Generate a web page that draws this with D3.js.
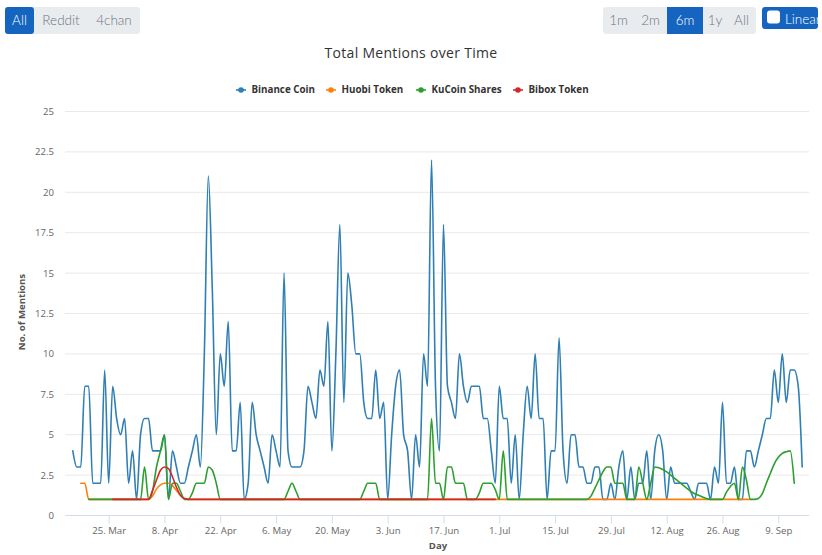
<!DOCTYPE html>
<html><head><meta charset="utf-8">
<script src="https://cdnjs.cloudflare.com/ajax/libs/d3/7.8.5/d3.min.js"></script>
<style>html,body{margin:0;padding:0;background:#fff;overflow:hidden}svg{display:block}</style>
</head><body><svg id="c" width="822" height="555"></svg>
<script>
const startDate = "2019-03-16";
const binance = [4,3,3,8,8,2,2,2,9,2, 8,6,5,6,2,4,1,5,6,6, 4,4,4,5,1,4,3,2,2,3, 4,5,3,10,21,14,5,10,8,12,
 4,4,7,1,2,7,5,4,3,2, 5,4,3,15,4,3,3,3,4,8, 7,6,9,8,12,4,10,18,7,15, 13,10,10,7,6,6,9,6,7,1,
 5,8,9,5,4,1,5,3,10,8, 22,8,4,18,8,7,6,10,8,7, 8,8,8,6,6,4,2,8,6,6, 2,5,1,5,8,6,10,6,6,1,
 4,4,11,4,2,5,5,3,3,2, 2,3,3,1,1,2,1,3,4,1, 3,1,2,2,4,1,4,5,4,1, 3,2,2,2,2,1.5,1,2,2,2,
 1,3,2,7,2,2,3,1,1,4, 4,3,4,5,6,6,9,7,10,7, 9,9,8,3];
const huobi = [null,null,2,2,1,1,1,1,1,1, 1,1,1,1,1,1,1,1,1,1, 1.2,1.65,1.9,2,2,1.85,1.55,1.25,1.05,1, 1,1,1,1,1,1,1,1,1,1,
 1,1,1,1,1,1,1,1,1,1, 1,1,1,1,1,1,1,1,1,1, 1,1,1,1,1,1,1,1,1,1, 1,1,1,1,1,1,1,1,1,1,
 1,1,1,1,1,1,1,1,1,1, 1,1,1,1,1,1,1,1,1,1, 1,1,1,1,1,1,1,1,1,1, 1,1,1,1,1,1,1,1,1,1,
 1,1,1,1,1,1,1,1,1,1, 1,1,1,1,1,1,1,1,1,1, 1,1,1,1,1,1,1,1,1,1, 1,1,1,1,1,1,1,1,1,1,
 1,1,1,1,1,1,1,1,1,1, 1];
const kucoin = [null,null,null,null,1,1,1,1,1,1, 1,1,1,1,1,1,1,1,3,1, 1.5,3,4,5,1,2,2,1.5,1,1, 1.4,2,2,2,3,2.8,2,1,1,1,
 1,1,1,1,1,1,1,1,1,1, 1,1,1,1,1.5,2,1.5,1,1,1, 1,1,1,1,1,1,1,1,1,1, 1,1,1,1.5,2,2,2,1,1,1,
 1,1,1,1,1,1,1,1,1,1, 6,2,2,1,3,3,2,2,2,1, 1,1,1.4,2,2,2,1.6,1,4,1, 1,1,1,1,1,1,1,1,1,1,
 1,1,1,1,1,1,1,1,1,1, 1.2,1.7,2.2,2.7,3,3,2,2,2,1, 1,1,3,2,1,2,3,2.95,2.85,2.7, 2.5,2.3,2.1,1.9,1.7,1.5,1.35,1.25,1.15,1.05,
 1,1,1,1,1.45,1.8,2,1,3,2.2, 1,1,1.05,1.35,2,2.6,3.2,3.6,3.85,3.95, 4,2];
const bibox = [null,null,null,null,null,null,null,null,null,null, 1,1,1,1,1,1,1,1,1,1, 1.55,2.2,2.8,3,2.9,2.4,1.75,1.25,1.05,1, 1,1,1,1,1,1,1,1,1,1,
 1,1,1,1,1,1,1,1,1,1, 1,1,1,1,1,1,1,1,1,1, 1,1,1,1,1,1,1,1,1,1, 1,1,1,1,1,1,1,1,1,1,
 1,1,1,1,1,1,1,1,1,1, 1,1,1,1,1,1,1,1,1,1, 1,1,1,1,1,1,1];
const seriesNames = ["Binance Coin","Huobi Token","KuCoin Shares","Bibox Token"];
const seriesColors = ["#2f7fb5","#ff7f0e","#2ca02c","#d62728"];
const seriesValues = [binance,huobi,kucoin,bibox];
const yTicks = [0,2.5,5,7.5,10,12.5,15,17.5,20,22.5,25];
const xTickDates = ["2019-03-25","2019-04-08","2019-04-22","2019-05-06","2019-05-20","2019-06-03","2019-06-17","2019-07-01","2019-07-15","2019-07-29","2019-08-12","2019-08-26","2019-09-09"];
const leftButtons = ["All","Reddit","4chan"];
const rightButtons = ["1m","2m","6m","1y","All"];

const svg = d3.select("#c");
const font = "'Open Sans',sans-serif";
const day0 = new Date(startDate+"T00:00:00Z");
const dayDate = i => new Date(+day0 + i*864e5);
const x = d3.scaleUtc().domain([dayDate(0),dayDate(183)]).range([72.8,802.2]);
const y = d3.scaleLinear().domain([0,25]).range([515.5,111.5]);

// grid
svg.append("g").selectAll("line").data(yTicks.slice(1)).join("line")
  .attr("x1",65).attr("x2",809).attr("y1",d=>y(d)).attr("y2",d=>y(d))
  .attr("stroke","#e9e9e9").attr("stroke-width",1);

// axes
const fmt = d3.utcFormat("%-d. %b");
const xAxis = d3.axisBottom(x).tickValues(xTickDates.map(d=>new Date(d+"T00:00:00Z"))).tickFormat(fmt).tickSize(8).tickPadding(4);
const gx = svg.append("g").attr("transform","translate(0,515.5)").call(xAxis);
gx.select(".domain").attr("d","M65,0H809").attr("stroke","#d5dcec").attr("stroke-width",1);
gx.selectAll(".tick line").attr("stroke","#d5dcec");
gx.selectAll("text").attr("font-family",font).attr("font-size",9.6).attr("fill","#666");
const yAxis = d3.axisLeft(y).tickValues(yTicks).tickFormat(d=>String(d)).tickSize(0).tickPadding(0);
const gy = svg.append("g").attr("transform","translate(54,0)").call(yAxis);
gy.select(".domain").remove();
gy.selectAll("text").attr("font-family",font).attr("font-size",9.6).attr("fill","#666");

// lines
const line = d3.line().defined(d=>d!=null).x((d,i)=>x(dayDate(i))).y(d=>y(d)).curve(d3.curveMonotoneX);
svg.append("g").selectAll("path").data(seriesValues).join("path")
  .attr("d",d=>line(d)).attr("fill","none").attr("stroke",(d,i)=>seriesColors[i])
  .attr("stroke-width",1.6).attr("stroke-linejoin","round").attr("stroke-linecap","round");

// titles
svg.append("text").attr("x",411).attr("y",58).attr("text-anchor","middle").attr("font-family",font)
  .attr("font-size",14).attr("letter-spacing",0.3).attr("fill","#333").text("Total Mentions over Time");
svg.append("text").attr("x",438).attr("y",549).attr("text-anchor","middle").attr("font-family",font)
  .attr("font-size",9.6).attr("font-weight",700).attr("fill","#555").text("Day");
svg.append("text").attr("transform","translate(25,312) rotate(-90)").attr("text-anchor","middle").attr("font-family",font)
  .attr("font-size",9.6).attr("font-weight",700).attr("fill","#555").text("No. of Mentions");

// legend
const legendX = [236,326,416,513];
const lg = svg.append("g").selectAll("g").data(seriesNames).join("g").attr("transform",(d,i)=>`translate(${legendX[i]},90)`);
lg.append("line").attr("x1",0).attr("x2",10).attr("stroke",(d,i)=>seriesColors[i]).attr("stroke-width",1.6);
lg.append("circle").attr("cx",5).attr("r",2.8).attr("fill",(d,i)=>seriesColors[i]);
lg.append("text").attr("x",15.5).attr("y",3.4).attr("font-family",font).attr("font-size",9.8).attr("font-weight",700).attr("fill","#333").text(d=>d);

// button groups
function group(labels,edges,active,yTop,h){
  const g = svg.append("g");
  g.append("rect").attr("x",edges[0]).attr("y",yTop).attr("width",edges[edges.length-1]-edges[0]).attr("height",h).attr("rx",3).attr("fill","#e9ecef");
  labels.forEach((t,i)=>{
    if(i===active) g.append("rect").attr("x",edges[i]).attr("y",yTop).attr("width",edges[i+1]-edges[i]).attr("height",h).attr("rx",i===0?3:0).attr("fill","#1565c0");
    g.append("text").attr("x",(edges[i]+edges[i+1])/2).attr("y",yTop+18).attr("text-anchor","middle")
      .attr("font-family","Lato,sans-serif").attr("font-size",13.5).attr("font-weight",300)
      .attr("fill",i===active?"#fff":"#6c757d").text(t);
  });
}
group(leftButtons,[5,34,88,140],0,7,27);
group(rightButtons,[603,634,667,703,727,756],2,7,27);

// Linear toggle
const cp = svg.append("clipPath").attr("id","lin");
cp.append("rect").attr("x",762).attr("y",7).attr("width",56).attr("height",22).attr("rx",3);
const tg = svg.append("g").attr("clip-path","url(#lin)");
tg.append("rect").attr("x",762).attr("y",7).attr("width",60).attr("height",22).attr("fill","#1565c0");
tg.append("rect").attr("x",767).attr("y",10.5).attr("width",13).attr("height",13).attr("rx",3).attr("fill","#fff");
tg.append("text").attr("x",785).attr("y",24).attr("font-family","Lato,sans-serif").attr("font-size",13.5).attr("font-weight",300).attr("fill","#fff").text("Linear");
</script></body></html>
